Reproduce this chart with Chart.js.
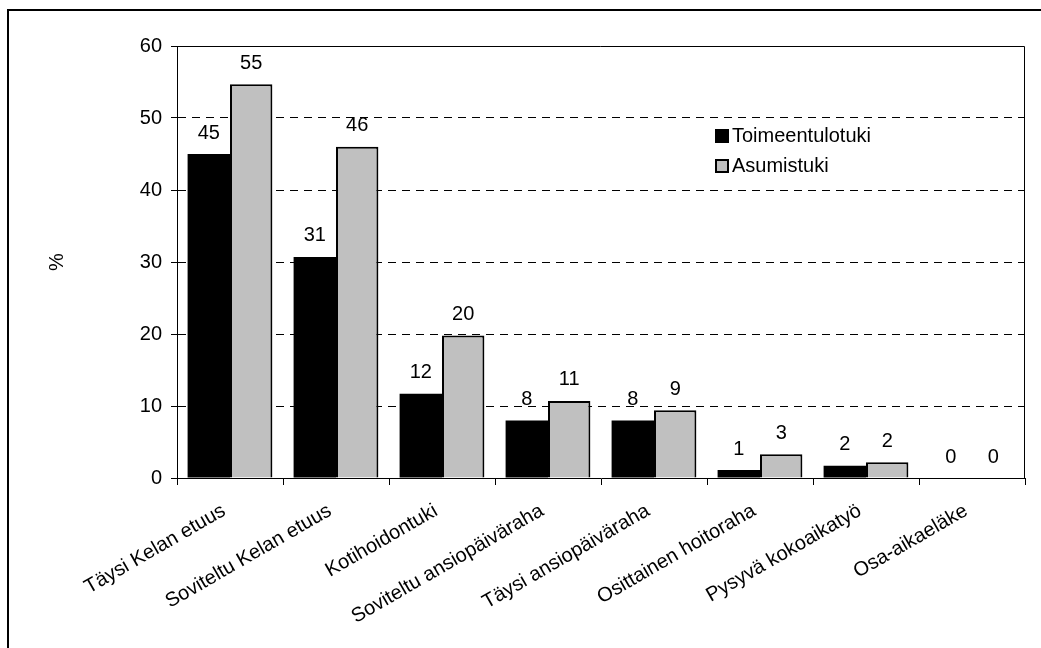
<!DOCTYPE html>
<html>
<head>
<meta charset="utf-8">
<script src="https://cdn.jsdelivr.net/npm/chart.js@4/dist/chart.umd.min.js"></script>
<style>
  html, body { margin: 0; padding: 0; background: #fff; }
  #wrap { position: relative; width: 1041px; height: 648px; }
  canvas { display: block; }
</style>
</head>
<body>
<div id="wrap"><canvas id="c" width="1041" height="648"></canvas></div>
<script>
const categories = [
  "Täysi Kelan etuus",
  "Soviteltu Kelan etuus",
  "Kotihoidontuki",
  "Soviteltu ansiopäiväraha",
  "Täysi ansiopäiväraha",
  "Osittainen hoitoraha",
  "Pysyvä kokoaikatyö",
  "Osa-aikaeläke"
];
const toimeentulotuki = [45.0, 30.7, 11.7, 8.0, 8.0, 1.1, 1.7, 0];
const asumistuki = [54.7, 46.0, 19.8, 10.7, 9.4, 3.3, 2.2, 0];
const seriesNames = ["Toimeentulotuki", "Asumistuki"];
const yTicks = [0, 10, 20, 30, 40, 50, 60];
const yTitle = "%";

const FONT = "'Liberation Sans', Arial, sans-serif";
const FS = 20;

const decorPlugin = {
  id: 'decor',
  beforeDraw(chart) {
    const ctx = chart.ctx;
    ctx.save();
    ctx.fillStyle = '#fff';
    ctx.fillRect(0, 0, chart.width, chart.height);
    ctx.strokeStyle = '#000';
    ctx.lineWidth = 2;
    ctx.beginPath();
    ctx.moveTo(8, chart.height + 2);
    ctx.lineTo(8, 10);
    ctx.lineTo(chart.width + 2, 10);
    ctx.stroke();
    ctx.restore();
  },
  afterDatasetsDraw(chart) {
    const ctx = chart.ctx;
    const a = chart.chartArea;
    ctx.save();
    // plot border
    ctx.strokeStyle = '#000';
    ctx.lineWidth = 1;
    ctx.beginPath();
    ctx.moveTo(a.left, a.top + 0.5);
    ctx.lineTo(a.right - 0.5, a.top + 0.5);
    ctx.lineTo(a.right - 0.5, a.bottom);
    ctx.stroke();
    // value labels
    ctx.fillStyle = '#000';
    ctx.font = FS + 'px ' + FONT;
    ctx.textAlign = 'center';
    ctx.textBaseline = 'middle';
    chart.data.datasets.forEach((ds, di) => {
      const meta = chart.getDatasetMeta(di);
      meta.data.forEach((el, i) => {
        ctx.fillText(String(Math.round(ds.data[i])), el.x, el.y - 21);
      });
    });
    // y title
    ctx.save();
    ctx.translate(57, (a.top + a.bottom) / 2);
    ctx.rotate(-Math.PI / 2);
    ctx.fillText(yTitle, 0, 0);
    ctx.restore();
    // legend
    const lx = 715, ly = [136, 166], sz = 14;
    chart.data.datasets.forEach((ds, di) => {
      ctx.fillStyle = ds.backgroundColor;
      ctx.fillRect(lx, ly[di] - sz / 2, sz, sz);
      ctx.strokeStyle = '#000';
      ctx.lineWidth = 2;
      ctx.strokeRect(lx + 1, ly[di] - sz / 2 + 1, sz - 2, sz - 2);
      ctx.fillStyle = '#000';
      ctx.textAlign = 'left';
      ctx.fillText(ds.label, lx + sz + 3, ly[di]);
    });
    ctx.restore();
  }
};

new Chart(document.getElementById('c'), {
  type: 'bar',
  data: {
    labels: categories,
    datasets: [
      { label: seriesNames[0], data: toimeentulotuki, backgroundColor: '#000000', borderColor: '#000000', borderWidth: 0 },
      { label: seriesNames[1], data: asumistuki, backgroundColor: '#c0c0c0', borderColor: '#000000', borderWidth: 2 }
    ]
  },
  options: {
    responsive: false,
    animation: false,
    devicePixelRatio: 1,
    layout: { padding: { left: 0, top: 46, right: 16, bottom: 0 } },
    plugins: { legend: { display: false }, tooltip: { enabled: false } },
    datasets: { bar: { categoryPercentage: 0.8, barPercentage: 1.0 } },
    scales: {
      x: {
        afterFit(scale) { scale.height = 170; },
        grid: { offset: true, drawOnChartArea: false, drawTicks: true, tickLength: 7, tickColor: '#000', color: '#000' },
        border: { display: true, color: '#000', width: 1 },
        ticks: {
          autoSkip: false, minRotation: 30, maxRotation: 30,
          color: '#000', font: { family: FONT, size: FS }, padding: 14, labelOffset: -6
        }
      },
      y: {
        min: 0, max: 60,
        afterFit(scale) { scale.width = 177; },
        afterBuildTicks(scale) { scale.ticks = yTicks.map(v => ({ value: v })); },
        grid: {
          color: (c) => (c.tick && (c.tick.value === 0 || c.tick.value === 60)) ? 'rgba(0,0,0,0)' : '#000',
          tickColor: '#000', tickLength: 6, lineWidth: 1, drawTicks: true
        },
        border: { display: true, color: '#000', width: 1, dash: [8, 6] },
        ticks: { color: '#000', font: { family: FONT, size: FS }, padding: 9 }
      }
    }
  },
  plugins: [decorPlugin]
});
</script>
</body>
</html>
